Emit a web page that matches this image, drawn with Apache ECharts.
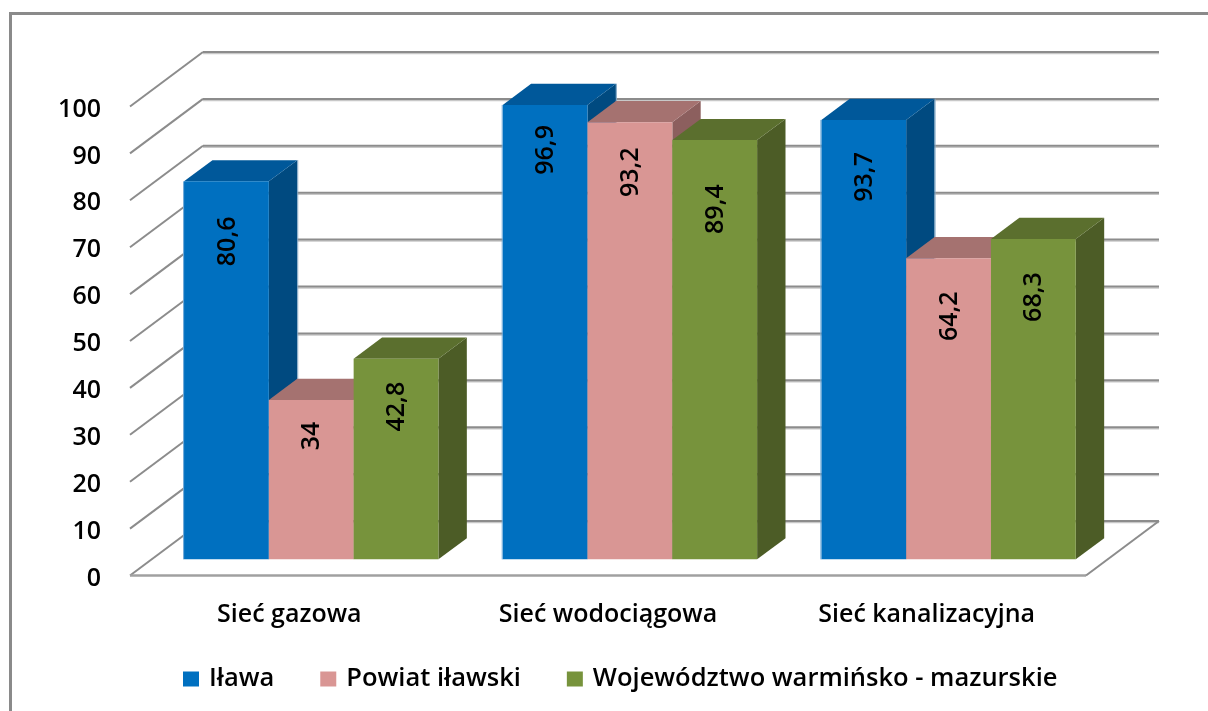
<!DOCTYPE html>
<html><head><meta charset="utf-8">
<style>html,body{margin:0;padding:0;background:#fff}#c{width:1208px;height:711px}</style>
<script src="https://cdn.jsdelivr.net/npm/echarts@6/dist/echarts.min.js"></script>
</head><body><div id="c"></div>
<script>
const categories = ['Sieć gazowa', 'Sieć wodociągowa', 'Sieć kanalizacyjna'];
const yTicks = [0, 10, 20, 30, 40, 50, 60, 70, 80, 90, 100];
const ilawa = [80.6, 96.9, 93.7];
const powiat = [34, 93.2, 64.2];
const wojewodztwo = [42.8, 89.4, 68.3];

const seriesNames = ['Iława', 'Powiat iławski', 'Województwo warmińsko - mazurskie'];
const seriesValues = [ilawa, powiat, wojewodztwo];
const faceColors = ['#0070C0', '#D99694', '#77933C'];
const topColors = ['#00589A', '#A57270', '#5B6F2E'];
const sideColors = ['#004A80', '#8C5F5E', '#4C5C26'];
const labelDrops = [[60, 36, 48], [45, 50, 69], [57, 58, 58]];

const FONT = '"Open Sans", Lato, sans-serif';
const DEPTH_X = 73, DEPTH_Y = -54.5;
const BAR_NEAR = 0.296, BAR_FAR = 0.685;
const BAR_WIDTH_PX = 84.8;

function project(api, cat, value, offset, depth) {
  const p = api.coord([cat, value]);
  const band = api.size([1, 0])[0];
  return [p[0] + offset * band + depth * DEPTH_X, p[1] + depth * DEPTH_Y];
}
function poly(points, fill) {
  return { type: 'polygon', shape: { points }, style: { fill }, silent: true };
}
function line(p, q, stroke, width) {
  return { type: 'line', shape: { x1: p[0], y1: p[1], x2: q[0], y2: q[1] }, style: { stroke, lineWidth: width }, silent: true };
}
function barRender(si) {
  return function (params, api) {
    const cat = api.value(0), v = api.value(1);
    const bw = BAR_WIDTH_PX / api.size([1, 0])[0];
    const x0 = (si - 1.5) * bw + 0.3 / api.size([1, 0])[0], x1 = x0 + bw;
    const a = project(api, cat, 0, x0, BAR_NEAR), b = project(api, cat, 0, x1, BAR_NEAR);
    const c = project(api, cat, v, x1, BAR_NEAR), d = project(api, cat, v, x0, BAR_NEAR);
    const bb = project(api, cat, 0, x1, BAR_FAR), cb = project(api, cat, v, x1, BAR_FAR);
    const db = project(api, cat, v, x0, BAR_FAR);
    const drop = labelDrops[cat][si];
    const children = [
      poly([b, bb, cb, c], sideColors[si]),
      poly([d, c, cb, db], topColors[si]),
      poly([a, b, c, d], faceColors[si])
    ];
    if (si === 0) {
      children.push(line([a[0] - 0.5, a[1]], [d[0] - 0.5, d[1]], '#6FA9D8', 1));
      children.push(line([bb[0] + 0.5, bb[1]], [cb[0] + 0.5, cb[1]], '#7FA5C4', 1));
    }
    children.push({
      type: 'text', silent: true, z2: 10,
      x: (a[0] + b[0]) / 2 + 1, y: d[1] + drop, rotation: Math.PI / 2,
      style: { text: String(v).replace('.', ','), font: '600 25px ' + FONT, fill: '#000', align: 'center', verticalAlign: 'middle' }
    });
    return { type: 'group', children };
  };
}
function gridRender(params, api) {
  const v = api.value(0);
  const left = project(api, 0, v, -0.5, 0);
  const backL = project(api, 0, v, -0.5, 1);
  const backR = project(api, 2, v, 0.5, 1);
  const children = [
    line([backL[0], backL[1] + 1.5], [backR[0], backR[1] + 1.5], '#c8c8c8', 1.5),
    line(backL, backR, '#8c8c8c', 2),
    line(left, backL, '#8c8c8c', 2)
  ];
  if (v === 0) {
    const frontR = project(api, 2, 0, 0.5, 0);
    children.push(line(left, frontR, '#a0a0a0', 2.5));
    children.push(line(frontR, backR, '#8c8c8c', 2));
  }
  return { type: 'group', children };
}

const chart = echarts.init(document.getElementById('c'), null, { renderer: 'canvas' });
chart.setOption({
  animation: false,
  backgroundColor: '#fff',
  grid: { left: 130, right: 122, top: 106.5, bottom: 135.5 },
  xAxis: {
    type: 'category', data: categories,
    axisLine: { show: false }, axisTick: { show: false },
    axisLabel: { margin: 27, fontFamily: FONT, fontSize: 25, fontWeight: 600, color: '#000' }
  },
  yAxis: {
    type: 'value', min: 0, max: 100, interval: 10,
    axisLine: { show: false }, axisTick: { show: false }, splitLine: { show: false },
    axisLabel: { margin: 29, fontFamily: FONT, fontSize: 25, fontWeight: 600, color: '#000', verticalAlign: 'top', lineHeight: 6 }
  },
  legend: {
    left: 178, top: 661, itemWidth: 16, itemHeight: 15, itemGap: 46, icon: 'rect',
    data: seriesNames,
    textStyle: { fontFamily: FONT, fontSize: 25.5, fontWeight: 600, color: '#000', padding: [0, 0, 0, 5] }
  },
  graphic: [
    { type: 'line', shape: { x1: 10.5, y1: 13.5, x2: 10.5, y2: 711 }, style: { stroke: '#8a8a8a', lineWidth: 3 }, silent: true },
    { type: 'line', shape: { x1: 9, y1: 13.5, x2: 1208, y2: 13.5 }, style: { stroke: '#8a8a8a', lineWidth: 3 }, silent: true }
  ],
  series: [
    { type: 'custom', name: 'grid', coordinateSystem: 'cartesian2d', z: 1, silent: true,
      renderItem: gridRender, encode: { y: 0 }, data: yTicks.map(t => [t]) },
    ...seriesNames.map((name, si) => ({
      type: 'custom', name, coordinateSystem: 'cartesian2d', z: 2, silent: true,
      itemStyle: { color: faceColors[si] },
      renderItem: barRender(si),
      encode: { x: 0, y: 1 },
      data: seriesValues[si].map((v, i) => [i, v])
    }))
  ]
});
</script></body></html>
